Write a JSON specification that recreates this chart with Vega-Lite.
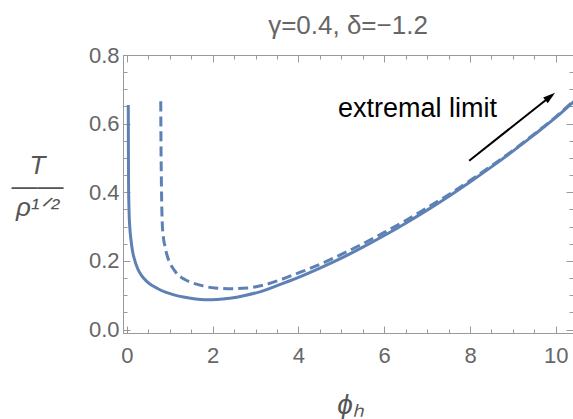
{
  "$schema": "https://vega.github.io/schema/vega-lite/v6.json",
  "autosize": "none",
  "width": 450,
  "height": 278,
  "padding": {"left": 123, "top": 55, "right": 0, "bottom": 86},
  "background": "white",
  "config": {
    "view": {"stroke": "#999999", "strokeWidth": 1},
    "font": "Liberation Sans",
    "axis": {
      "domainColor": "#999999",
      "tickColor": "#999999",
      "labelColor": "#666666",
      "titleColor": "#555555",
      "labelFont": "Liberation Sans",
      "titleFont": "Liberation Sans",
      "labelFontSize": 22,
      "grid": false
    }
  },
  "title": {
    "text": "γ=0.4, δ=−1.2",
    "fontSize": 26,
    "font": "Liberation Sans",
    "fontWeight": "normal",
    "color": "#666666",
    "anchor": "middle",
    "offset": 5
  },
  "datasets": {
    "solid": [
      {"x": 0.033, "y": 0.654}, {"x": 0.036, "y": 0.52}, {"x": 0.04, "y": 0.42}, {"x": 0.05, "y": 0.35},
      {"x": 0.07, "y": 0.295}, {"x": 0.096, "y": 0.262}, {"x": 0.13, "y": 0.23}, {"x": 0.174, "y": 0.206},
      {"x": 0.25, "y": 0.178}, {"x": 0.345, "y": 0.157}, {"x": 0.45, "y": 0.142}, {"x": 0.58, "y": 0.129},
      {"x": 0.725, "y": 0.119}, {"x": 0.9, "y": 0.109}, {"x": 1.1, "y": 0.101}, {"x": 1.35, "y": 0.094},
      {"x": 1.6, "y": 0.089}, {"x": 1.82, "y": 0.087}, {"x": 2.1, "y": 0.0875}, {"x": 2.4, "y": 0.091},
      {"x": 2.75, "y": 0.099}, {"x": 3.1, "y": 0.11}, {"x": 3.5, "y": 0.128}, {"x": 4.0, "y": 0.152},
      {"x": 4.5, "y": 0.179}, {"x": 5.0, "y": 0.208}, {"x": 5.5, "y": 0.24}, {"x": 6.0, "y": 0.274},
      {"x": 6.5, "y": 0.31}, {"x": 7.0, "y": 0.348}, {"x": 7.5, "y": 0.388}, {"x": 8.0, "y": 0.43},
      {"x": 8.5, "y": 0.474}, {"x": 9.0, "y": 0.52}, {"x": 9.5, "y": 0.568}, {"x": 10.0, "y": 0.618},
      {"x": 10.5, "y": 0.674}
    ],
    "dashed": [
      {"x": 0.79, "y": 0.665}, {"x": 0.795, "y": 0.55}, {"x": 0.803, "y": 0.45}, {"x": 0.812, "y": 0.37},
      {"x": 0.825, "y": 0.31}, {"x": 0.85, "y": 0.27}, {"x": 0.89, "y": 0.242}, {"x": 0.94, "y": 0.215},
      {"x": 1.0, "y": 0.195}, {"x": 1.1, "y": 0.174}, {"x": 1.19, "y": 0.16}, {"x": 1.35, "y": 0.146},
      {"x": 1.51, "y": 0.137}, {"x": 1.75, "y": 0.128}, {"x": 2.05, "y": 0.121}, {"x": 2.44, "y": 0.119},
      {"x": 2.8, "y": 0.121}, {"x": 3.2, "y": 0.13}, {"x": 3.6, "y": 0.146}, {"x": 4.0, "y": 0.165},
      {"x": 4.5, "y": 0.19}, {"x": 5.0, "y": 0.219}, {"x": 5.5, "y": 0.25}, {"x": 6.0, "y": 0.283},
      {"x": 6.5, "y": 0.318}, {"x": 7.0, "y": 0.355}, {"x": 7.5, "y": 0.393}, {"x": 8.0, "y": 0.434},
      {"x": 8.5, "y": 0.477}, {"x": 9.0, "y": 0.522}, {"x": 9.5, "y": 0.57}, {"x": 10.0, "y": 0.62},
      {"x": 10.5, "y": 0.676}
    ],
    "arrow": [
      {"x": 7.98, "y": 0.492}, {"x": 9.9, "y": 0.682}
    ],
    "head": [
      {"x": 9.87, "y": 0.679}
    ],
    "label": [
      {"x": 8.63, "y": 0.619, "text": "extremal limit"}
    ]
  },
  "layer": [
    {
      "data": {"name": "solid"},
      "mark": {"type": "line", "color": "#5E81B5", "strokeWidth": 3, "clip": true, "interpolate": "monotone"},
      "encoding": {
        "x": {
          "field": "x", "type": "quantitative",
          "scale": {"domain": [-0.09, 10.4], "nice": false, "zero": false},
          "axis": {
            "orient": "bottom",
            "values": [0,0.5,1,1.5,2,2.5,3,3.5,4,4.5,5,5.5,6,6.5,7,7.5,8,8.5,9,9.5,10],
            "labelExpr": "datum.value % 2 === 0 ? format(datum.value, 'd') : ''",
            "tickSize": {"condition": {"test": "datum.value % 2 === 0", "value": -7}, "value": -4},
            "labelPadding": 19,
            "labelFlush": false,
            "labelOverlap": false,
            "title": "ϕₕ",
            "titleFontSize": 28,
            "titleFontStyle": "italic",
            "titleFontWeight": "normal",
            "titleColor": "#555555",
            "titleX": 227,
            "titleY": 72,
            "titleBaseline": "middle"
          }
        },
        "y": {
          "field": "y", "type": "quantitative",
          "scale": {"domain": [-0.01, 0.8], "nice": false, "zero": false},
          "axis": {
            "orient": "left",
            "values": [0,0.05,0.1,0.15,0.2,0.25,0.3,0.35,0.4,0.45,0.5,0.55,0.6,0.65,0.7,0.75,0.8],
            "labelExpr": "abs(datum.value*5 - round(datum.value*5)) < 0.000001 ? format(datum.value, '.1f') : ''",
            "tickSize": {"condition": {"test": "abs(datum.value*5 - round(datum.value*5)) < 0.000001", "value": -7}, "value": -4},
            "labelPadding": 11,
            "labelFlush": false,
            "labelOverlap": false,
            "title": ["T", "——", "ρ¹ᐟ²"],
            "titleAngle": 0,
            "titleFontSize": 26,
            "titleFontStyle": "italic",
            "titleFontWeight": "normal",
            "titleColor": "#555555",
            "titleLineHeight": 21,
            "titleAlign": "center",
            "titleBaseline": "middle",
            "titleX": -86,
            "titleY": 110
          }
        }
      }
    },
    {
      "data": {"name": "dashed"},
      "mark": {"type": "line", "color": "#5E81B5", "strokeWidth": 3, "strokeDash": [10, 5], "clip": true, "interpolate": "monotone"},
      "encoding": {
        "x": {
          "field": "x", "type": "quantitative",
          "axis": {
            "orient": "top",
            "values": [0,0.5,1,1.5,2,2.5,3,3.5,4,4.5,5,5.5,6,6.5,7,7.5,8,8.5,9,9.5,10],
            "labels": false,
            "title": null,
            "tickSize": {"condition": {"test": "datum.value % 2 === 0", "value": -7}, "value": -4}
          }
        },
        "y": {
          "field": "y", "type": "quantitative",
          "axis": {
            "orient": "right",
            "values": [0,0.05,0.1,0.15,0.2,0.25,0.3,0.35,0.4,0.45,0.5,0.55,0.6,0.65,0.7,0.75,0.8],
            "labels": false,
            "title": null,
            "tickSize": {"condition": {"test": "abs(datum.value*5 - round(datum.value*5)) < 0.000001", "value": -7}, "value": -4}
          }
        }
      }
    },
    {
      "data": {"name": "arrow"},
      "mark": {"type": "line", "color": "black", "strokeWidth": 2},
      "encoding": {
        "x": {"field": "x", "type": "quantitative", "axis": null},
        "y": {"field": "y", "type": "quantitative", "axis": null}
      }
    },
    {
      "data": {"name": "head"},
      "mark": {"type": "point", "shape": "M0,-1L0.6,1L-0.6,1Z", "filled": true, "color": "black", "opacity": 1, "size": 150, "angle": 51.6},
      "encoding": {
        "x": {"field": "x", "type": "quantitative", "axis": null},
        "y": {"field": "y", "type": "quantitative", "axis": null}
      }
    },
    {
      "data": {"name": "label"},
      "mark": {"type": "text", "align": "right", "baseline": "alphabetic", "fontSize": 27, "font": "Liberation Sans", "color": "black"},
      "encoding": {
        "x": {"field": "x", "type": "quantitative", "axis": null},
        "y": {"field": "y", "type": "quantitative", "axis": null},
        "text": {"field": "text"}
      }
    }
  ],
  "resolve": {"axis": {"x": "independent", "y": "independent"}}
}
